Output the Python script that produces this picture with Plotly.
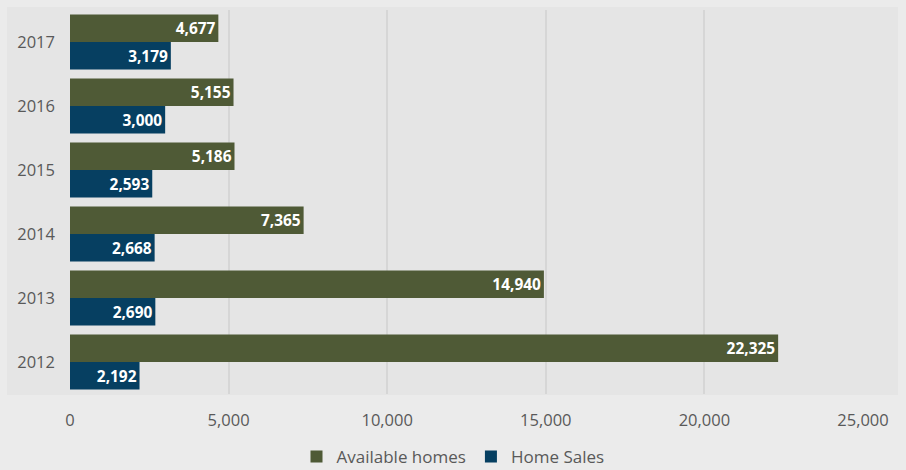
import plotly.graph_objects as go

years = ["2012", "2013", "2014", "2015", "2016", "2017"]
available = [22325, 14940, 7365, 5186, 5155, 4677]
sales = [2192, 2690, 2668, 2593, 3000, 3179]
x_ticks = [0, 5000, 10000, 15000, 20000, 25000]

GREEN = "#4f5a36"
BLUE = "#063f61"

fig = go.Figure()
fig.add_trace(go.Bar(
    y=years, x=sales, orientation="h", name="Home Sales",
    marker=dict(color=BLUE, line=dict(width=0)),
    text=[f"{v:,}" for v in sales], textposition="inside", insidetextanchor="end",
    textfont=dict(color="white", size=16.5, family="Open Sans", weight="bold"),
    textangle=0,
))
fig.add_trace(go.Bar(
    y=years, x=available, orientation="h", name="Available homes",
    marker=dict(color=GREEN, line=dict(width=0)),
    text=[f"{v:,}" for v in available], textposition="inside", insidetextanchor="end",
    textfont=dict(color="white", size=16.5, family="Open Sans", weight="bold"),
    textangle=0,
))

fig.add_shape(type="rect", xref="paper", yref="paper",
              x0=-0.0794, x1=1.0441, y0=-0.0026, y1=1.0078,
              fillcolor="#e5e5e5", line=dict(width=0), layer="below")

fig.update_layout(
    width=906, height=470,
    margin=dict(l=70, r=43, t=10, b=76, autoexpand=False),
    paper_bgcolor="#ebebeb", plot_bgcolor="rgba(0,0,0,0)",
    barmode="group", bargap=0.14, bargroupgap=0,
    uniformtext=dict(minsize=8, mode="show"),
    font=dict(family="Open Sans", color="#595959", size=16),
    xaxis=dict(range=[0, 25000], tickvals=x_ticks, ticktext=[f"{v:,}" for v in x_ticks],
               showgrid=True, gridcolor="#d6d6d6", gridwidth=1.5, zeroline=False,
               showline=False, ticks="", ticklabelstandoff=14, automargin=False,
               tickfont=dict(size=16.5, color="#595959")),
    yaxis=dict(type="category", categoryorder="array", categoryarray=years,
               showgrid=False, zeroline=False, showline=False, ticks="", automargin=False,
               ticklabelstandoff=14, tickfont=dict(size=16.5, color="#595959")),
    legend=dict(orientation="h", x=0.5, xanchor="center", xref="container",
                y=0.028, yanchor="middle", yref="container",
                traceorder="reversed", font=dict(size=17, color="#595959"),
                bgcolor="rgba(0,0,0,0)", itemwidth=30),
    showlegend=True,
)

fig.write_html("out.html", config={"displayModeBar": False},
               post_script="document.body.style.margin='0';document.body.style.background='#ebebeb';")
